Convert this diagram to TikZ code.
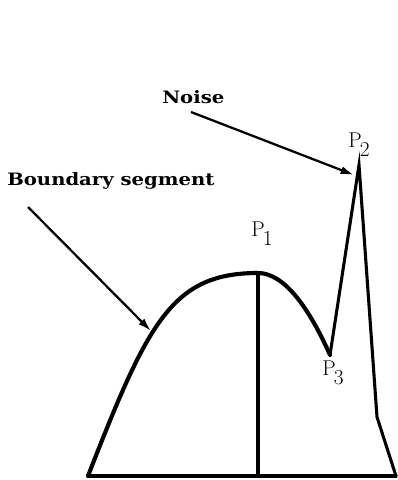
\documentclass[tikz,border=0pt]{standalone}
\usepackage{fontspec}
\newfontfamily\labelfont{DejaVu Serif}
\usetikzlibrary{arrows.meta}
\tikzset{
  curveline/.style={line width=3.1pt, line cap=round, line join=round},
  edgeline/.style={line width=2.3pt, line cap=round, line join=miter},
  pointer/.style={line width=1.7pt, -{Latex[length=10pt,width=6pt]}},
  wordlabel/.style={inner sep=0pt, anchor=base west, font=\labelfont\bfseries\fontsize{12.8}{14}\selectfont, xscale=1.15},
  ptlabel/.style={inner sep=0pt, anchor=base west, font=\fontsize{16}{17}\selectfont}
}
\newcommand{\ptname}[1]{P\kern-1.4pt\raisebox{-7pt}{#1}}
\begin{document}
\begin{tikzpicture}[x=0.75pt,y=-0.75pt]
\useasboundingbox (0,0) rectangle (398,480);
% vertices
\coordinate (L) at (88,476);
\coordinate (P1v) at (258,273);
\coordinate (B1) at (258,476);
\coordinate (P3v) at (330,355);
\coordinate (P2v) at (359,165);
\coordinate (K) at (377,417);
\coordinate (R) at (396,476);
% boundary curve
\draw[curveline] (L) .. controls (148,322) and (172,273) .. (P1v)
  .. controls (285,273) and (310,310) .. (P3v);
% straight parts
\draw[edgeline] (P1v) -- (B1);
\draw[edgeline] (P3v) -- (P2v) -- (K) -- (R);
\draw[edgeline] (L) -- (R);
% labels
\node[wordlabel] (bs) at (7,185) {Boundary segment};
\node[wordlabel] (noise) at (162,103) {Noise};
\node[ptlabel] (p1) at (251,236) {\ptname{1}};
\node[ptlabel] (p2) at (348,147) {\ptname{2}};
\node[ptlabel] (p3) at (322,375) {\ptname{3}};
% arrows
\coordinate (bsA) at (28,207);
\coordinate (bsB) at (151,331);
\coordinate (nA) at (191,112);
\coordinate (nB) at (354,175);
\draw[pointer] (bsA) -- (bsB);
\draw[pointer] (nA) -- (nB);
\end{tikzpicture}
\end{document}
